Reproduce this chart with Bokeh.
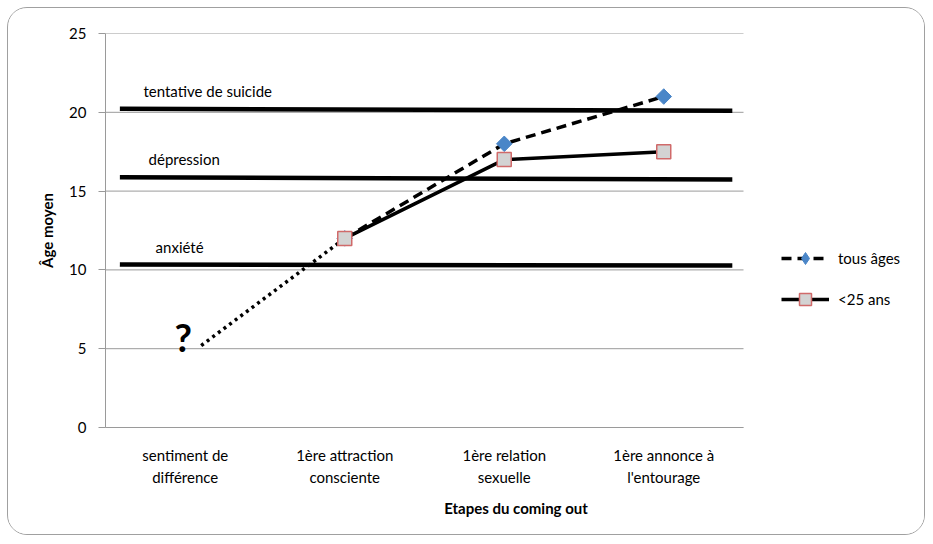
import math
from bokeh.plotting import figure
from bokeh.models import Range1d, FixedTicker, Legend, LegendItem
from bokeh.core.properties import value
from bokeh.embed import file_html
from bokeh.resources import INLINE

# ---- data ----
categories = ["sentiment de\ndifférence", "1ère attraction\nconsciente",
              "1ère relation\nsexuelle", "1ère annonce à\nl'entourage"]
tous_ages = [math.nan, 12, 18, 21]
moins_25 = [math.nan, 12, 17, 17.5]
unknown_x = [0.1, 1]          # dotted "?" segment (category units)
unknown_age = [5.2, 12]
threshold_labels = ["tentative de suicide", "dépression", "anxiété"]
threshold_age_left = [20.22, 15.88, 10.34]
threshold_age_right = [20.1, 15.74, 10.28]
y_ticks = [0, 5, 10, 15, 20, 25]

FONT = "Lato"
GRAY = "#9a9a9a"

xs = list(range(len(categories)))
x_lo, x_hi = -0.5, len(categories) - 0.5
# frame extends to the right edge so the legend (drawn inside the frame) is not clipped
x_end = x_lo + 821 / 159.5

p = figure(width=918, height=528, output_backend="svg", toolbar_location=None,
           x_range=Range1d(x_lo, x_end), y_range=Range1d(0, 25),
           min_border_left=97, min_border_right=0, min_border_top=25, min_border_bottom=109)
p.styles = {"margin": "7px", "border": "1px solid #a0a0a0", "border-radius": "20px",
            "overflow": "hidden"}
p.outline_line_color = None
p.background_fill_color = "white"
p.border_fill_color = "white"

# horizontal grid lines limited to the category span
p.xgrid.grid_line_color = None
p.ygrid.grid_line_color = None
p.segment(x0=[x_lo] * len(y_ticks), y0=y_ticks, x1=[x_hi] * len(y_ticks), y1=y_ticks,
          line_color=GRAY, line_width=1)

p.yaxis.ticker = FixedTicker(ticks=y_ticks)
p.yaxis.axis_line_color = GRAY
p.yaxis.major_tick_line_color = GRAY
p.yaxis.major_tick_out = 7
p.yaxis.major_tick_in = 0
p.yaxis.minor_tick_line_color = None
p.yaxis.major_label_standoff = 12
p.yaxis.major_label_text_font = FONT
p.yaxis.major_label_text_font_size = "15px"
p.yaxis.major_label_text_color = "black"
p.yaxis.axis_label = "Âge moyen"
p.yaxis.axis_label_text_font = FONT
p.yaxis.axis_label_text_font_style = "bold"
p.yaxis.axis_label_text_font_size = "15px"
p.yaxis.axis_label_text_color = "black"
p.yaxis.axis_label_standoff = 10

p.xaxis.ticker = FixedTicker(ticks=xs)
p.xaxis.bounds = (x_lo, x_hi)
p.xaxis.major_label_overrides = {i: c for i, c in zip(xs, categories)}
p.xaxis.axis_line_color = GRAY
p.xaxis.major_tick_line_color = None
p.xaxis.minor_tick_line_color = None
p.xaxis.major_tick_out = 0
p.xaxis.major_tick_in = 0
p.xaxis.major_label_standoff = 18
p.xaxis.major_label_text_font = FONT
p.xaxis.major_label_text_font_size = "15px"
p.xaxis.major_label_text_color = "black"
p.xaxis.major_label_text_line_height = 1.25
p.xaxis.axis_label = "Etapes du coming out"
p.xaxis.axis_label_text_font = FONT
p.xaxis.axis_label_text_font_style = "bold"
p.xaxis.axis_label_text_font_size = "15px"
p.xaxis.axis_label_text_color = "black"
p.xaxis.axis_label_standoff = 10

# threshold lines
n = len(threshold_labels)
p.segment(x0=[-0.41] * n, y0=threshold_age_left, x1=[3.43] * n, y1=threshold_age_right,
          line_color="black", line_width=4.5)
label_x = [-0.262, -0.23, -0.186]
p.text(x=label_x, y=threshold_age_left, text=threshold_labels, text_font=value(FONT),
       text_font_size="15px", text_color="black", text_baseline="middle",
       text_align="left", y_offset=-18)

# unknown segment
p.line(unknown_x, unknown_age, line_color="black", line_width=3.5, line_dash="3 4")
p.text(x=[0], y=[unknown_age[0]], text=["?"], text_font=value(FONT),
       text_font_style="bold", text_font_size="38px", text_color="black",
       text_align="center", text_baseline="alphabetic", y_offset=-9, x_offset=-2)

# series
l1 = p.line(xs, tous_ages, line_color="black", line_width=3.5, line_dash="10 6")
l2 = p.line(xs, moins_25, line_color="black", line_width=3.5)
m1 = p.scatter(xs, tous_ages, marker="square", angle=math.pi / 4, size=11,
               fill_color="#4a86c8", line_color="#4a86c8", line_width=1)
m2 = p.scatter(xs, moins_25, marker="square", size=14, fill_color="#d3d3d3",
               line_color="#d06a6a", line_width=1.5)
# legend-only diamond swatch (no data points)
m1_key = p.scatter([math.nan], [math.nan], marker="diamond", size=12,
                   fill_color="#4a86c8", line_color="#4a86c8")

legend = Legend(items=[LegendItem(label="tous âges", renderers=[l1, m1_key]),
                       LegendItem(label="<25 ans", renderers=[l2, m2])],
                location=(676, 113), orientation="vertical", glyph_width=48,
                glyph_height=30, spacing=11, padding=0, margin=0, label_standoff=9,
                border_line_color=None, background_fill_alpha=0,
                label_text_font=FONT, label_text_font_size="15px",
                label_text_color="black")
p.add_layout(legend)

open("out.html", "w").write(file_html(p, INLINE))
